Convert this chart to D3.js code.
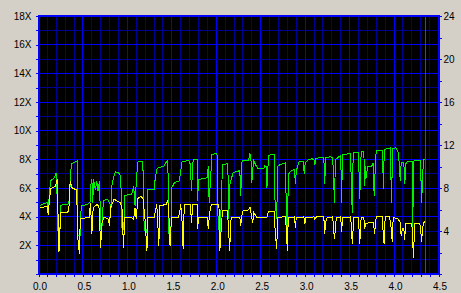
<!DOCTYPE html>
<html>
<head>
<meta charset="utf-8">
<script src="https://cdn.jsdelivr.net/npm/d3@7"></script>
<style>
  html, body { margin: 0; padding: 0; background: #d4d0c8; }
  svg { display: block; font-family: "Liberation Sans", Arial, sans-serif; font-size: 12px; }
  .axis path { display: none; }
  .axis line { stroke: #0000ff; shape-rendering: crispEdges; }
  .axis text { fill: #000; }
</style>
</head>
<body>
<div id="chart"></div>
<script>
// speed curve (X) vs position
const greenSeries = [
  [0.00,4.70],[0.04,4.86],[0.10,4.98],[0.11,4.56],[0.12,5.40],[0.135,6.49],[0.18,6.72],[0.20,7.07],[0.21,5.33],[0.22,2.90],
  [0.24,2.90],[0.25,4.80],[0.33,4.86],[0.35,5.21],[0.36,7.07],[0.375,7.69],[0.435,7.90],[0.44,2.66],[0.47,2.66],[0.48,4.75],
  [0.55,4.86],[0.58,5.03],[0.59,6.25],[0.60,6.65],[0.61,4.98],[0.62,6.60],[0.64,5.86],[0.656,6.49],[0.67,5.79],[0.686,6.49],
  [0.70,3.36],[0.71,2.43],[0.72,4.40],[0.735,5.14],[0.78,5.21],[0.80,4.93],[0.82,4.70],[0.825,6.14],[0.844,6.72],[0.866,7.13],
  [0.91,7.02],[0.926,6.72],[0.937,3.24],[0.96,3.13],[0.97,5.49],[1.05,5.56],[1.07,6.14],[1.087,4.75],[1.10,6.42],[1.117,7.81],
  [1.174,7.88],[1.185,3.82],[1.20,2.90],[1.22,2.90],[1.23,5.91],[1.30,5.91],[1.31,6.49],[1.33,7.30],[1.35,7.41],[1.41,7.53],
  [1.43,7.76],[1.455,7.92],[1.466,2.90],[1.49,3.13],[1.50,6.02],[1.53,6.37],[1.58,6.49],[1.60,7.07],[1.61,7.81],[1.69,7.92],
  [1.71,7.64],[1.72,5.79],[1.74,7.99],[1.785,7.99],[1.79,5.10],[1.80,6.56],[1.84,6.65],[1.90,6.72],[1.91,7.53],[1.92,4.98],
  [1.94,7.07],[1.95,8.34],[2.00,8.41],[2.01,8.27],[2.02,3.82],[2.04,2.43],[2.055,4.75],[2.07,7.64],[2.13,7.69],[2.14,3.82],
  [2.15,6.14],[2.17,6.65],[2.19,7.07],[2.25,7.18],[2.265,7.25],[2.275,5.44],[2.29,7.88],[2.365,7.95],[2.377,8.45],[2.39,7.99],
  [2.40,6.37],[2.42,7.99],[2.44,7.64],[2.47,7.34],[2.535,7.34],[2.545,7.53],[2.56,7.48],[2.57,6.02],[2.58,7.30],[2.59,8.29],
  [2.65,8.34],[2.66,5.21],[2.68,3.82],[2.69,7.53],[2.72,7.64],[2.78,7.76],[2.79,3.13],[2.80,1.62],[2.81,6.95],[2.84,7.18],
  [2.88,7.30],[2.89,6.25],[2.90,7.18],[2.93,7.81],[2.98,7.85],[2.99,6.95],[3.00,7.76],[3.03,7.95],[3.08,8.04],[3.10,7.95],
  [3.11,7.64],[3.12,8.04],[3.15,8.11],[3.21,8.11],[3.22,6.25],[3.23,8.11],[3.285,8.18],[3.31,8.11],[3.33,4.98],[3.34,7.99],
  [3.40,8.27],[3.41,4.98],[3.42,8.34],[3.44,8.34],[3.51,8.41],[3.52,6.14],[3.53,4.29],[3.54,8.46],[3.60,8.50],[3.614,5.21],
  [3.63,8.52],[3.66,8.52],[3.67,6.14],[3.68,7.53],[3.69,6.72],[3.70,7.53],[3.75,7.53],[3.765,7.76],[3.776,5.44],[3.79,7.64],
  [3.80,8.64],[3.87,8.64],[3.88,5.91],[3.89,8.69],[3.96,8.80],[3.97,4.98],[3.985,8.73],[4.02,8.80],[4.035,8.64],[4.05,8.46],
  [4.07,6.49],[4.08,7.76],[4.11,7.76],[4.12,6.25],[4.135,7.76],[4.165,7.88],[4.205,7.88],[4.21,3.13],[4.22,7.88],[4.297,7.95],
  [4.31,4.98],[4.33,7.95],[4.35,7.99]
];

// second (yellow) curve
const yellowSeries = [
  [0.00,4.63],[0.10,4.70],[0.11,4.12],[0.124,5.33],[0.14,5.95],[0.19,6.14],[0.21,6.60],[0.22,4.05],[0.23,1.51],[0.25,4.29],
  [0.33,4.29],[0.345,4.80],[0.356,6.49],[0.375,6.02],[0.43,5.86],[0.44,2.66],[0.46,1.39],[0.47,3.87],[0.57,3.94],[0.585,4.98],
  [0.60,2.78],[0.615,4.63],[0.66,4.86],[0.68,4.70],[0.70,1.85],[0.71,3.47],[0.735,3.94],[0.78,3.87],[0.80,3.36],[0.81,4.63],
  [0.85,5.21],[0.885,5.10],[0.92,4.98],[0.94,4.52],[0.956,1.85],[0.97,3.94],[1.05,3.94],[1.07,3.78],[1.085,4.63],[1.10,3.82],
  [1.117,5.26],[1.147,5.40],[1.174,5.33],[1.196,4.05],[1.22,1.62],[1.23,3.94],[1.30,3.94],[1.32,4.52],[1.33,4.86],[1.34,3.82],
  [1.354,1.97],[1.365,4.75],[1.436,4.86],[1.455,5.10],[1.466,4.29],[1.48,1.97],[1.496,3.94],[1.57,3.94],[1.586,4.17],[1.60,4.86],
  [1.616,3.59],[1.627,1.74],[1.64,4.86],[1.71,4.86],[1.72,3.59],[1.736,4.86],[1.785,4.86],[1.79,3.13],[1.80,3.94],[1.90,3.94],
  [1.91,3.13],[1.925,4.29],[1.946,4.86],[2.03,4.86],[2.04,1.62],[2.055,3.13],[2.07,4.40],[2.126,4.40],[2.14,2.90],[2.15,1.62],
  [2.167,3.94],[2.265,3.94],[2.275,3.36],[2.29,4.17],[2.30,4.40],[2.365,4.47],[2.38,4.68],[2.395,4.05],[2.41,3.54],[2.42,4.33],
  [2.445,4.05],[2.46,3.94],[2.57,3.94],[2.587,4.35],[2.65,4.35],[2.66,3.24],[2.67,2.43],[2.68,1.74],[2.69,3.94],[2.78,4.01],
  [2.79,2.66],[2.80,1.62],[2.81,3.94],[2.88,3.98],[2.89,3.24],[2.90,3.94],[2.985,3.98],[2.996,3.47],[3.007,3.94],[3.10,3.98],
  [3.11,3.82],[3.127,3.98],[3.21,3.98],[3.22,2.78],[3.23,3.59],[3.247,3.94],[3.31,3.98],[3.32,3.13],[3.33,2.43],[3.35,3.94],
  [3.40,3.98],[3.41,2.90],[3.42,3.94],[3.51,3.98],[3.52,3.36],[3.53,2.08],[3.547,3.94],[3.60,3.94],[3.614,2.08],[3.63,3.94],
  [3.66,3.94],[3.67,3.13],[3.68,3.54],[3.77,3.59],[3.78,2.78],[3.80,3.98],[3.87,3.98],[3.88,2.43],[3.89,2.08],[3.90,3.98],
  [3.95,3.98],[3.97,3.13],[3.98,2.20],[3.99,3.94],[4.04,3.87],[4.07,3.59],[4.08,2.66],[4.095,3.17],[4.11,3.13],[4.12,2.39],
  [4.13,3.54],[4.20,3.54],[4.21,2.20],[4.22,1.09],[4.23,3.54],[4.29,3.54],[4.30,3.01],[4.31,2.25],[4.32,3.13],[4.33,3.54],
  [4.35,3.71]
];

const xTicks = d3.range(0, 4.51, 0.1).map(d => +d.toFixed(1));
const xLabels = [0, 0.5, 1, 1.5, 2, 2.5, 3, 3.5, 4, 4.5];
const leftTicks = d3.range(0, 19, 1);
const rightTicks = d3.range(0, 25, 2);
const endMarker = 4.355;

const W = 461, H = 293;
const plot = { left: 38.5, right: 438.5, top: 16, bottom: 274 };

const svg = d3.select('#chart').append('svg')
  .attr('width', W)
  .attr('height', H);

const x = d3.scaleLinear().domain([0, 4.5]).range([plot.left, plot.right]);
const y = d3.scaleLinear().domain([0, 18]).range([plot.bottom, plot.top]);
const yR = d3.scaleLinear().domain([0, 24]).range([plot.bottom, plot.top]);

// black plot area
svg.append('rect')
  .attr('x', plot.left).attr('y', plot.top)
  .attr('width', plot.right - plot.left)
  .attr('height', plot.bottom - plot.top)
  .attr('fill', '#000');

// grid
const isMajorX = d => Math.abs(d * 2 - Math.round(d * 2)) < 1e-6;
const grid = svg.append('g').attr('shape-rendering', 'crispEdges');
grid.selectAll('line.v')
  .data(xTicks.filter(d => d > 0 && d < 4.5))
  .enter().append('line')
  .attr('x1', d => x(d)).attr('x2', d => x(d))
  .attr('y1', plot.top).attr('y2', plot.bottom)
  .attr('stroke', d => isMajorX(d) ? '#0000ff' : '#000090');
grid.selectAll('line.h')
  .data(leftTicks.filter(d => d > 0 && d < 18))
  .enter().append('line')
  .attr('y1', d => y(d)).attr('y2', d => y(d))
  .attr('x1', plot.left).attr('x2', plot.right)
  .attr('stroke', d => d % 2 === 0 ? '#0000ff' : '#000090');

// series
const line = d3.line().x(d => x(d[0])).y(d => y(d[1]));
svg.append('path')
  .datum(greenSeries)
  .attr('d', line)
  .attr('fill', 'none')
  .attr('stroke', '#00f000')
  .attr('stroke-width', 1)
  .attr('shape-rendering', 'crispEdges');
svg.append('path')
  .datum(yellowSeries)
  .attr('d', line)
  .attr('fill', 'none')
  .attr('stroke', '#ffff00')
  .attr('stroke-width', 1)
  .attr('shape-rendering', 'crispEdges');

// red end marker
svg.append('line')
  .attr('x1', x(endMarker)).attr('x2', x(endMarker))
  .attr('y1', plot.top).attr('y2', plot.bottom)
  .attr('stroke', '#ff0000')
  .attr('shape-rendering', 'crispEdges');

// frame
svg.append('rect')
  .attr('x', plot.left).attr('y', plot.top)
  .attr('width', plot.right - plot.left)
  .attr('height', plot.bottom - plot.top)
  .attr('fill', 'none')
  .attr('stroke', '#0000ff')
  .attr('stroke-width', 2)
  .attr('shape-rendering', 'crispEdges');

// axes
svg.append('g')
  .attr('class', 'axis')
  .attr('transform', `translate(0,${plot.bottom})`)
  .call(d3.axisBottom(x)
    .tickValues(xTicks)
    .tickSize(3)
    .tickPadding(6)
    .tickFormat(d => xLabels.some(v => Math.abs(v - d) < 1e-6) ? d3.format('.1f')(d) : ''))
  .selectAll('text').attr('dx', 1);

svg.append('g')
  .attr('class', 'axis')
  .attr('transform', `translate(${plot.left},0)`)
  .call(d3.axisLeft(y)
    .tickValues(leftTicks)
    .tickSize(3)
    .tickPadding(4)
    .tickFormat(d => (d > 0 && d % 2 === 0) ? d + 'X' : ''));

svg.append('g')
  .attr('class', 'axis')
  .attr('transform', `translate(${plot.right},0)`)
  .call(d3.axisRight(yR)
    .tickValues(rightTicks)
    .tickSize(3)
    .tickPadding(2)
    .tickFormat(d => (d > 0 && d % 4 === 0) ? d : ''));
</script>
</body>
</html>
